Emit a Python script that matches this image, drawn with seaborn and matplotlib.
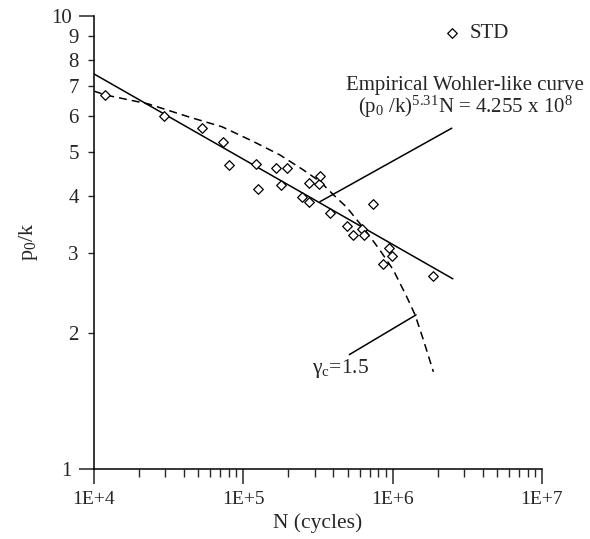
import matplotlib
matplotlib.use("Agg")
import matplotlib.pyplot as plt
import matplotlib.ticker as mticker
import numpy as np
import pandas as pd
import seaborn as sns

# STD test points: N (cycles) and p0/k
std_cycles = [1.19e4, 2.93e4, 5.31e4, 7.31e4, 8.06e4, 1.22e5, 1.25e5, 1.66e5, 1.79e5, 1.97e5,
              2.46e5, 2.76e5, 2.77e5, 3.20e5, 3.26e5, 3.81e5, 4.97e5, 5.40e5, 6.21e5, 6.47e5,
              7.43e5, 8.59e5, 9.42e5, 9.95e5, 1.87e6]
std_ratio = [6.69, 6.02, 5.66, 5.28, 4.69, 4.71, 4.14, 4.62, 4.23, 4.61,
             3.99, 4.27, 3.88, 4.25, 4.43, 3.68, 3.43, 3.29, 3.39, 3.29,
             3.84, 2.84, 3.08, 2.95, 2.67]

# Empirical Wohler-like line (straight on log-log), end points
wohler_cycles = [1.0e4, 2.53e6]
wohler_ratio = [7.44, 2.63]

# gamma_c = 1.5 curve (dashed)
gamma_cycles = [1.0e4, 1.185e4, 2.31e4, 4.40e4, 7.20e4, 1.167e5, 1.762e5, 2.523e5, 3.265e5,
                4.01e5, 4.93e5, 6.53e5, 8.23e5, 1.011e6, 1.243e6, 1.413e6, 1.606e6, 1.874e6]
gamma_ratio = [6.82, 6.69, 6.39, 5.97, 5.69, 5.28, 4.93, 4.57, 4.31,
               4.03, 3.78, 3.37, 3.04, 2.75, 2.40, 2.19, 1.93, 1.64]

# leader lines for the two labels
wohler_leader_cycles = [2.49e6, 3.26e5]
wohler_leader_ratio = [5.65, 3.89]
gamma_leader_cycles = [5.13e5, 1.435e6]
gamma_leader_ratio = [1.79, 2.19]

sns.set_style("ticks")
plt.rcParams['font.family'] = ['Liberation Serif', 'DejaVu Serif']
plt.rcParams['mathtext.fontset'] = 'custom'
plt.rcParams['mathtext.rm'] = 'Liberation Serif'
plt.rcParams['mathtext.it'] = 'Liberation Serif:italic'
plt.rcParams['mathtext.default'] = 'regular'

fig = plt.figure(figsize=(5.9, 5.39), dpi=100)
ax = fig.add_axes([0.1593, 0.1293, 0.7593, 0.8416])
ax.set_xscale('log')
ax.set_yscale('log')

std_df = pd.DataFrame({'N': std_cycles, 'p': std_ratio})
wohler_df = pd.DataFrame({'N': wohler_cycles, 'p': wohler_ratio})
gamma_df = pd.DataFrame({'N': gamma_cycles, 'p': gamma_ratio})

sns.lineplot(data=wohler_df, x='N', y='p', ax=ax, color='black', linewidth=1.1,
             estimator=None, sort=False)
sns.lineplot(data=gamma_df, x='N', y='p', ax=ax, color='black', linewidth=1.1,
             estimator=None, sort=False, dashes=False)
ax.lines[-1].set_dashes((5.2, 3.3))
sns.lineplot(x=wohler_leader_cycles, y=wohler_leader_ratio, ax=ax, color='black',
             linewidth=1.1, estimator=None, sort=False)
sns.lineplot(x=gamma_leader_cycles, y=gamma_leader_ratio, ax=ax, color='black',
             linewidth=1.1, estimator=None, sort=False)
sns.scatterplot(data=std_df, x='N', y='p', ax=ax, marker='D', s=24, facecolor='white',
                edgecolor='black', linewidth=0.9, label='STD', zorder=5)

ax.set_xlim(1e4, 1e7)
ax.set_ylim(1, 10)

ax.xaxis.set_major_locator(mticker.LogLocator(base=10, numticks=10))
ax.xaxis.set_minor_locator(mticker.LogLocator(base=10, subs=np.arange(2, 10), numticks=10))
ax.xaxis.set_major_formatter(mticker.FuncFormatter(lambda v, _: f"1E+{int(round(np.log10(v)))}"))
ax.xaxis.set_minor_formatter(mticker.NullFormatter())
ax.yaxis.set_major_locator(mticker.LogLocator(base=10, numticks=10))
ax.yaxis.set_minor_locator(mticker.LogLocator(base=10, subs=np.arange(2, 10), numticks=10))
ax.yaxis.set_major_formatter(mticker.FuncFormatter(lambda v, _: f"{v:g}"))
ax.yaxis.set_minor_formatter(mticker.FuncFormatter(lambda v, _: f"{v:g}"))

ax.tick_params(axis='x', which='major', direction='out', length=10.8, width=1.1, pad=5, labelsize=14)
ax.tick_params(axis='x', which='minor', direction='out', length=5.8, width=1.0)
ax.tick_params(axis='y', which='major', direction='out', length=10.8, width=1.1, pad=5, labelsize=15)
ax.tick_params(axis='y', which='minor', direction='out', length=4.5, width=1.0, pad=6.5, labelsize=15)

sns.despine(ax=ax)
for side in ['left', 'bottom']:
    ax.spines[side].set_linewidth(1.1)
    ax.spines[side].set_color('black')

ax.set_xlabel('')
ax.set_ylabel('')
fig.text(318 / 590, 1 - 523 / 539, 'N (cycles)', ha='center', va='center', fontsize=15.5)
fig.text(28 / 590, 1 - 242 / 539, 'p$_0$/k', ha='center', va='center', rotation=90, fontsize=16)

ax.text(0.828, 0.847, 'Empirical Wohler-like curve', transform=ax.transAxes,
        ha='center', va='center', fontsize=15)
ax.text(0.830, 0.800, '(p$_0$ /k)$^{5.31}$N = 4.255 x 10$^{8}$', transform=ax.transAxes,
        ha='center', va='center', fontsize=15)
ax.text(0.550, 0.223, 'γ$_c$=1.5', transform=ax.transAxes,
        ha='center', va='center', fontsize=15.5)

ax.legend(loc='center left', bbox_to_anchor=(0.777, 0.961), frameon=False, fontsize=15,
          handlelength=1.0, handletextpad=0.3, borderpad=0, borderaxespad=0)

fig.savefig('out.png', dpi=100)
